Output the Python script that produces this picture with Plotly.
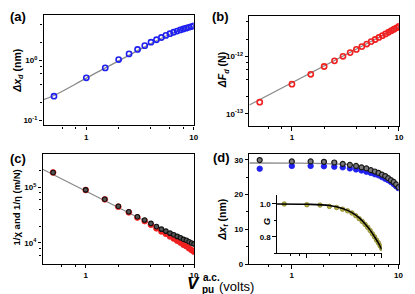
import plotly.graph_objects as go
import math

W, H = 415, 294

# ---------------- data ----------------
V = [0.5, 1.0, 1.5, 2.0, 2.5, 3.0, 3.5, 4.0, 4.5, 5.0,
     5.5, 6.0, 6.5, 7.0, 7.5, 8.0, 8.5, 9.0, 9.5, 10.0]

# (a) displacement amplitude (nm)
dx_d = [0.255, 0.517, 0.755, 1.04, 1.29, 1.53, 1.77, 2.02, 2.22, 2.42,
        2.62, 2.80, 2.96, 3.10, 3.23, 3.35, 3.46, 3.57, 3.67, 3.77]
fit_a_x = [0.4, 0.5, 1, 2, 3, 4, 5, 6, 7, 8, 9, 10]
fit_a_y = [0.224, 0.262, 0.51, 0.99, 1.46, 1.92, 2.35, 2.74, 3.07, 3.34, 3.55, 3.72]

# (b) force amplitude (N)
dF_d = [1.6e-13, 3.3e-13, 4.9e-13, 6.7e-13, 8.4e-13, 1.01e-12, 1.17e-12, 1.33e-12,
        1.49e-12, 1.65e-12, 1.82e-12, 1.98e-12, 2.15e-12, 2.31e-12, 2.48e-12,
        2.65e-12, 2.82e-12, 2.99e-12, 3.16e-12, 3.34e-12]
fit_b_x = [0.4, 10]
fit_b_y = [1.43e-13, 3.3e-12]

# (c) 1/chi (black) and 1/eta (red), m/N
inv_chi = [184000, 89600, 61000, 45500, 36200, 29600, 25800, 22500, 19700, 17700,
           16300, 15000, 14000, 13100, 12400, 11600, 11200, 10500, 10000, 9600]
inv_eta = [184000, 89150, 60600, 44800, 35400, 28650, 24700, 21260, 18280, 16110,
           14560, 13125, 12000, 10980, 10140, 9280, 8740, 8010, 7450, 6990]
fit_c_x = [0.4, 10]
fit_c_y = [210000, 8900]

# (d) dx_t (nm)
dx_t_black = [29.9, 29.5, 29.5, 29.4, 29.2, 28.8, 28.5, 28.2, 27.8, 27.5,
              27.0, 26.6, 26.2, 25.7, 25.3, 24.7, 24.1, 23.6, 22.9, 22.1]
dx_t_blue = [27.4, 28.2, 28.2, 28.1, 28.0, 27.8, 27.5, 27.2, 26.9, 26.5,
             26.2, 25.8, 25.5, 25.0, 24.5, 24.1, 23.6, 23.0, 22.4, 21.8]
fit_d_x = [0.4, 1, 2, 3, 4, 5, 6, 7, 8, 9, 10]
fit_d_y = [29.05, 29.0, 28.9, 28.7, 28.3, 27.6, 26.8, 25.8, 24.7, 23.5, 22.1]

# (d) inset G
G = [1.0, 0.995, 0.993, 0.985, 0.978, 0.968, 0.958, 0.945, 0.928, 0.91,
     0.893, 0.875, 0.857, 0.838, 0.818, 0.80, 0.78, 0.763, 0.745, 0.728]
fit_g_x = [0.4, 1, 2, 3, 4, 5, 6, 7, 8, 9, 10]
fit_g_y = [1.0, 0.998, 0.99, 0.972, 0.947, 0.915, 0.878, 0.84, 0.80, 0.762, 0.722]

# ---------------- styling ----------------
FONT = "Liberation Sans"
BLUE = "#2020f0"
RED = "#f02020"
GRAY = "#8a8a8a"


def px_x(x):
    return x / W


def px_y(y):
    return 1 - y / H


tickfont = dict(family=FONT, size=8, color="black", weight="bold")

fig = go.Figure()

# panel boxes: (left, right, top, bottom) in pixels
boxes = {
    "a": (36, 188, 7, 119.5),
    "b": (244.3, 395.7, 8.5, 120),
    "c": (35, 188.3, 148.3, 260),
    "d": (244.3, 395.3, 148.3, 260.5),
    "g": (272.3, 378.3, 190, 249.3),
}

xminor_log = [0.6, 0.8, 2, 4, 6, 8]


def xaxis_cfg(box, anchor, mirror=True, labels=True):
    l, r, t, b = box
    return dict(
        domain=[px_x(l), px_x(r)], anchor=anchor, type="log",
        range=[math.log10(0.4), 1], tickmode="array", tickvals=[1, 10],
        ticktext=["1", "10"],
        showticklabels=labels,
        ticks="outside", ticklen=3.5, tickwidth=1, tickcolor="black",
        minor=dict(tickmode="array", tickvals=xminor_log, ticks="outside",
                   ticklen=2, tickwidth=1, tickcolor="black", showgrid=False),
        showline=True, linecolor="black", linewidth=1.3, mirror=mirror,
        showgrid=False, zeroline=False, tickfont=tickfont,
    )


def yaxis_cfg(box, anchor, **kw):
    l, r, t, b = box
    d = dict(
        domain=[px_y(b), px_y(t)], anchor=anchor,
        ticks="outside", ticklen=3.5, tickwidth=1, tickcolor="black",
        showline=True, linecolor="black", linewidth=1.3, mirror=True,
        showgrid=False, zeroline=False, tickfont=tickfont,
    )
    d.update(kw)
    return d


def minor_cfg(vals):
    return dict(tickmode="array", tickvals=vals, ticks="outside", ticklen=2,
                tickwidth=1, tickcolor="black", showgrid=False)


layout_axes = {}
layout_axes["xaxis"] = xaxis_cfg(boxes["a"], "y")
layout_axes["yaxis"] = yaxis_cfg(
    boxes["a"], "x", type="log", range=[-1.08, 0.76], tickmode="array",
    tickvals=[0.1, 1], ticktext=["10<sup>-1</sup>", "10<sup>0</sup>"],
    minor=minor_cfg([0.2, 0.4, 0.6, 0.8, 2, 4]))
layout_axes["xaxis2"] = xaxis_cfg(boxes["b"], "y2")
layout_axes["yaxis2"] = yaxis_cfg(
    boxes["b"], "x2", type="log", range=[-13.21, -11.30], tickmode="array",
    tickvals=[1e-13, 1e-12], ticktext=["10<sup>-13</sup>", "10<sup>-12</sup>"],
    minor=minor_cfg([2e-13, 4e-13, 6e-13, 8e-13, 2e-12, 4e-12]))
layout_axes["xaxis3"] = xaxis_cfg(boxes["c"], "y3")
layout_axes["yaxis3"] = yaxis_cfg(
    boxes["c"], "x3", type="log", range=[3.63, 5.6], tickmode="array",
    tickvals=[1e4, 1e5], ticktext=["10<sup>4</sup>", "10<sup>5</sup>"],
    minor=minor_cfg([6e3, 8e3, 2e4, 4e4, 6e4, 8e4, 2e5]))
layout_axes["xaxis4"] = xaxis_cfg(boxes["d"], "y4")
layout_axes["yaxis4"] = yaxis_cfg(
    boxes["d"], "x4", range=[0, 31.7], tickmode="array",
    tickvals=[0, 10, 20, 30], ticktext=["0", "10", "20", "30"],
    minor=minor_cfg([5, 15, 25]))
layout_axes["xaxis5"] = xaxis_cfg(boxes["g"], "y5", mirror=False, labels=False)
layout_axes["yaxis5"] = yaxis_cfg(
    boxes["g"], "x5", range=[0.70, 1.056], tickmode="array",
    tickvals=[0.8, 1.0], ticktext=["0.8", "1.0"], mirror=False,
    minor=minor_cfg([0.7, 0.9]))

# ---------------- traces ----------------
line_gray = dict(color=GRAY, width=1.3)

# (a)
fig.add_trace(go.Scatter(x=fit_a_x, y=fit_a_y, mode="lines", line=dict(**line_gray, shape="spline"),
                         xaxis="x", yaxis="y", hoverinfo="skip"))
fig.add_trace(go.Scatter(x=V, y=dx_d, mode="markers", xaxis="x", yaxis="y",
                         marker=dict(symbol="circle", size=5.2, color="rgba(0,0,0,0)",
                                     line=dict(color=BLUE, width=1.6))))
# (b)
fig.add_trace(go.Scatter(x=fit_b_x, y=fit_b_y, mode="lines", line=line_gray,
                         xaxis="x2", yaxis="y2", hoverinfo="skip"))
fig.add_trace(go.Scatter(x=V, y=dF_d, mode="markers", xaxis="x2", yaxis="y2",
                         marker=dict(symbol="circle", size=5.2, color="rgba(0,0,0,0)",
                                     line=dict(color=RED, width=1.6))))
# (c)
fig.add_trace(go.Scatter(x=fit_c_x, y=fit_c_y, mode="lines", line=line_gray,
                         xaxis="x3", yaxis="y3", hoverinfo="skip"))
fig.add_trace(go.Scatter(x=V, y=inv_eta, mode="markers", xaxis="x3", yaxis="y3",
                         marker=dict(symbol="circle", size=5.8, color=RED,
                                     line=dict(color=RED, width=0.8))))
fig.add_trace(go.Scatter(x=V, y=inv_chi, mode="markers", xaxis="x3", yaxis="y3",
                         marker=dict(symbol="circle", size=4.5, color="#555555",
                                     line=dict(color="#111111", width=1.1))))
# (d)
fig.add_trace(go.Scatter(x=fit_d_x, y=fit_d_y, mode="lines", line=dict(**line_gray, shape="spline"),
                         xaxis="x4", yaxis="y4", hoverinfo="skip"))
fig.add_trace(go.Scatter(x=V, y=dx_t_blue, mode="markers", xaxis="x4", yaxis="y4",
                         marker=dict(symbol="circle", size=5.5, color=BLUE,
                                     line=dict(color=BLUE, width=0.8))))
fig.add_trace(go.Scatter(x=V, y=dx_t_black, mode="markers", xaxis="x4", yaxis="y4",
                         marker=dict(symbol="circle", size=5, color="#7a7a7a",
                                     line=dict(color="#1a1a1a", width=1.2))))
# inset
fig.add_trace(go.Scatter(x=V, y=G, mode="markers", xaxis="x5", yaxis="y5",
                         marker=dict(symbol="circle", size=4.5, color="#b9b445",
                                     line=dict(color="#86822a", width=0.8))))
fig.add_trace(go.Scatter(x=fit_g_x, y=fit_g_y, mode="lines", xaxis="x5", yaxis="y5",
                         line=dict(color="black", width=1.6, shape="spline"), hoverinfo="skip"))

# ---------------- annotations ----------------
ann = []


def add_text(text, x, y, size, angle=0, bold=True, xanchor="center"):
    ann.append(dict(text=text, x=px_x(x), y=px_y(y), xref="paper", yref="paper",
                    showarrow=False, textangle=angle, xanchor=xanchor, yanchor="middle",
                    font=dict(family=FONT, size=size, color="black",
                              weight="bold" if bold else "normal")))


add_text("(a)", 10, 9, 13)
add_text("(b)", 215, 9, 13)
add_text("(c)", 10, 153, 13)
add_text("(d)", 216, 152, 13)

add_text("<i>Δ</i><i>x</i><sub><i>d</i></sub> (nm)", 10, 64, 10.5, angle=-90)
add_text("<i>Δ</i><i>F</i><sub><i>d</i></sub> (N)", 218, 63, 10.5, angle=-90)
add_text("1/χ and 1/η (m/N)", 9, 203, 9.5, angle=-90)
add_text("<i>Δ</i><i>x</i><sub><i>t</i></sub> (nm)", 218, 215, 10.5, angle=-90)
add_text("<i>G</i>", 261, 217, 9.5, angle=-90)

# x-axis title
add_text("<i>V</i>", 187.5, 280, 17)
add_text("a.c.", 195, 274.5, 10, xanchor="left")
add_text("pu", 194.5, 286, 10, xanchor="left")
add_text("(volts)", 212, 283, 13, bold=False, xanchor="left")

fig.update_layout(
    width=W, height=H, margin=dict(l=0, r=0, t=0, b=0),
    paper_bgcolor="white", plot_bgcolor="rgba(0,0,0,0)",
    showlegend=False, annotations=ann, **layout_axes,
)

fig.write_html("out.html")
